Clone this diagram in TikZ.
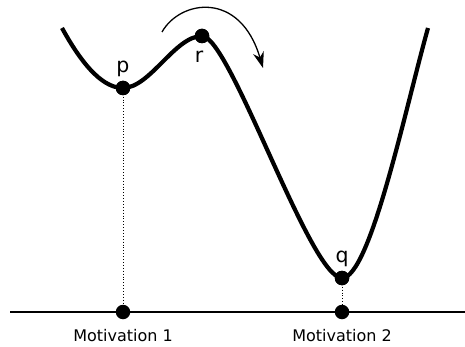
\documentclass[tikz,border=0pt]{standalone}
\usepackage{fontspec}
\setmainfont{DejaVu Sans}
\usetikzlibrary{arrows.meta}
\tikzset{
  dot/.style={circle,fill=black,inner sep=0pt,minimum size=14.5pt},
  curve/.style={line width=4.2pt,line join=round},
  guide/.style={line width=0.9pt,dotted},
  ptlabel/.style={font=\fontsize{20.5}{22}\selectfont,anchor=base,inner sep=0pt},
  axislabel/.style={font=\fontsize{16}{18}\selectfont,anchor=base,inner sep=0pt},
}
\begin{document}
\begin{tikzpicture}[x=1pt,y=-1pt]
\useasboundingbox (0,0) rectangle (465,347);
% key points
\coordinate (s) at (62,28);
\coordinate (e) at (428,28);
\node[dot] (p) at (123,88) {};
\node[dot] (r) at (202,36) {};
\node[dot] (q) at (342,278) {};
\node[dot] (m1) at (123,312) {};
\node[dot] (m2) at (342,312) {};
\coordinate (axl) at (10,312);
\coordinate (axr) at (465,312);
% axis
\draw[line width=1.3pt] (axl) -- (axr);
% guides
\draw[guide] (p.center) -- (m1.center);
\draw[guide] (q.center) -- (m2.center);
% curve
\draw[curve] (s) .. controls (85,70) and (105,88) .. (p.center)
  .. controls (150,88) and (175,36) .. (r.center)
  .. controls (230,36) and (310,278) .. (q.center)
  .. controls (370,278) and (405,110) .. (e);
% redraw dots above curve
\node[dot] at (p) {};
\node[dot] at (r) {};
\node[dot] at (q) {};
% arrow
\coordinate (a0) at (162,32);
\coordinate (a1) at (263,68);
\draw[line width=1.3pt,-{Stealth[length=16pt,width=11pt,inset=5pt]}] (a0) .. controls (180,0) and (240,-10) .. (a1);
% labels
\node[ptlabel] (lp) at (123,73) {p};
\node[ptlabel] (lr) at (199,63) {r};
\node[ptlabel] (lq) at (342,262) {q};
\node[axislabel] (l1) at (123,341) {Motivation 1};
\node[axislabel] (l2) at (342,341) {Motivation 2};
\end{tikzpicture}
\end{document}
